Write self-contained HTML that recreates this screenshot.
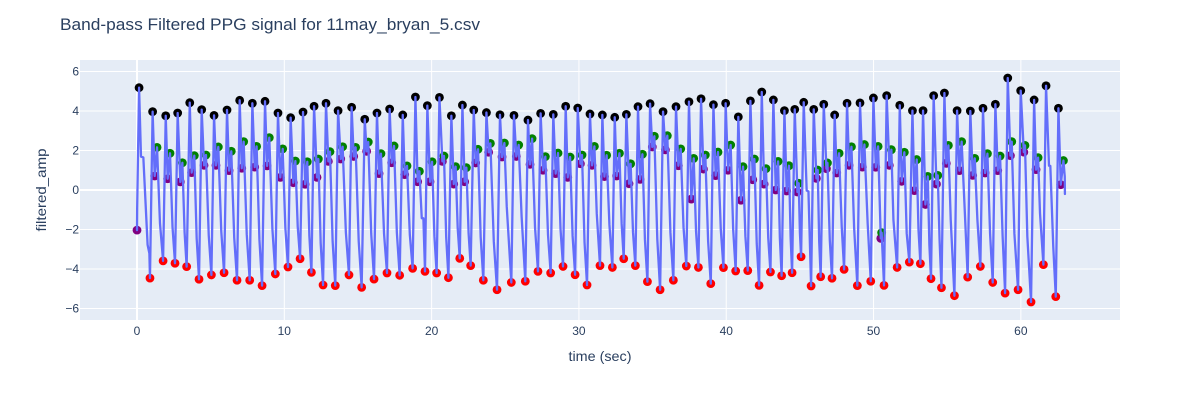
<!DOCTYPE html>
<html lang="en">
<head>
<meta charset="utf-8">
<title>Band-pass Filtered PPG signal</title>
<style>
html,body{margin:0;padding:0;background:#fff;width:1200px;height:400px;overflow:hidden}
svg{display:block}
text{font-family:"Liberation Sans",Arial,sans-serif;fill:#2a3f5f}
</style>
</head>
<body>
<svg id="chart" width="1200" height="400" viewBox="0 0 1200 400" xmlns="http://www.w3.org/2000/svg">
  <rect x="0" y="0" width="1200" height="400" fill="#ffffff"/>
  <rect x="80" y="60" width="1040" height="260" fill="#E5ECF6"/>
  <g id="grid"></g>
  <g id="ticks"></g>
  <g id="markers"></g>
  <path id="signal" fill="none" stroke="#636efa" stroke-width="2.3" stroke-linejoin="round" stroke-linecap="round"/>
  <text x="60" y="30" font-size="17" textLength="420" lengthAdjust="spacingAndGlyphs">Band-pass Filtered PPG signal for 11may_bryan_5.csv</text>
  <text x="600" y="361" font-size="14" text-anchor="middle" textLength="63" lengthAdjust="spacingAndGlyphs">time (sec)</text>
  <text x="0" y="0" font-size="14" text-anchor="middle" textLength="83" lengthAdjust="spacingAndGlyphs" transform="translate(46 190) rotate(-90)">filtered_amp</text>
</svg>
<script>
const xTicks = [0,10,20,30,40,50,60];
const yTicks = [-6,-4,-2,0,2,4,6];

const peakT = [0.14,1.06,1.95,2.76,3.58,4.39,5.23,6.11,6.97,7.83,8.69,9.57,10.43,11.27,12.02,12.83,13.65,14.57,15.46,16.29,17.15,18.04,18.90,19.71,20.53,21.34,22.09,22.86,23.72,24.64,25.59,26.54,27.40,28.26,29.10,29.92,30.75,31.59,32.43,33.22,34.01,34.83,35.71,36.59,37.47,38.29,39.13,39.96,40.82,41.64,42.41,43.20,43.95,44.65,45.26,45.94,46.62,47.36,48.20,49.08,49.99,50.89,51.78,52.64,53.36,54.08,54.81,55.67,56.57,57.43,58.27,59.11,59.99,60.90,61.71,62.55];
const peakV = [5.18,3.97,3.76,3.90,4.42,4.07,3.78,4.05,4.54,4.39,4.49,3.90,3.66,3.95,4.24,4.39,4.02,4.19,3.58,3.90,4.10,3.80,4.71,4.27,4.69,3.76,4.30,4.05,3.92,3.81,3.78,3.54,3.88,3.83,4.24,4.15,3.85,3.80,3.68,3.83,4.22,4.37,3.97,4.22,4.47,4.62,4.32,4.39,3.70,4.51,4.96,4.56,4.02,4.08,4.44,4.08,4.34,3.80,4.39,4.41,4.66,4.78,4.29,4.02,4.02,4.78,4.91,4.02,4.00,4.14,4.34,5.67,5.03,4.56,5.28,4.14];

const troughT = [0.88,1.77,2.58,3.37,4.21,5.05,5.91,6.79,7.65,8.49,9.39,10.25,11.07,11.84,12.63,13.46,14.39,15.25,16.09,16.97,17.83,18.71,19.55,20.34,21.14,21.91,22.65,23.51,24.44,25.41,26.36,27.22,28.08,28.92,29.74,30.55,31.43,32.27,33.04,33.83,34.65,35.51,36.41,37.29,38.11,38.95,39.81,40.64,41.46,42.23,43.00,43.76,44.47,45.08,45.76,46.41,47.18,48.00,48.90,49.81,50.71,51.60,52.43,53.18,53.90,54.61,55.49,56.39,57.25,58.09,58.93,59.81,60.69,61.53,62.37];
const troughV = [-4.46,-3.59,-3.71,-3.88,-4.52,-4.30,-4.19,-4.57,-4.57,-4.84,-4.25,-3.90,-3.48,-4.17,-4.81,-4.84,-4.30,-4.93,-4.51,-4.20,-4.32,-3.97,-4.12,-4.20,-4.44,-3.46,-3.83,-4.57,-5.05,-4.68,-4.62,-4.12,-4.20,-3.87,-4.29,-4.81,-3.83,-3.92,-3.48,-3.83,-4.64,-5.05,-4.57,-3.85,-3.92,-4.74,-3.93,-4.10,-4.08,-4.83,-4.15,-4.34,-4.19,-3.38,-4.86,-4.39,-4.47,-4.02,-4.84,-4.62,-4.83,-3.92,-3.65,-3.73,-4.49,-4.95,-5.35,-4.41,-3.87,-4.68,-5.22,-5.05,-5.67,-3.78,-5.40];

const diastolicT = [1.36,2.24,3.08,3.89,4.68,5.52,6.40,7.24,8.12,8.98,9.89,10.75,11.56,12.31,13.10,13.96,14.84,15.70,16.56,17.45,18.33,19.17,20.03,20.84,21.63,22.36,23.15,23.99,24.94,25.91,26.82,27.72,28.58,29.40,30.21,31.05,31.88,32.75,33.51,34.31,35.12,36.00,36.91,37.79,38.58,39.44,40.30,41.14,41.91,42.70,43.52,44.26,44.92,46.21,46.87,47.66,48.50,49.38,50.31,50.55,51.21,52.09,52.93,53.68,54.36,55.08,55.98,56.87,57.73,58.59,59.38,60.28,61.17,62.89];
const diastolicV = [2.16,1.86,1.38,1.74,1.77,2.18,1.96,2.45,2.21,2.65,2.08,1.47,1.43,1.57,1.94,2.19,2.16,2.43,1.84,2.23,1.22,0.95,1.43,1.72,1.18,1.13,2.06,2.36,2.38,2.28,2.60,1.69,1.87,1.67,1.77,2.21,1.76,1.86,1.33,1.81,2.72,2.75,2.08,1.60,1.77,1.92,2.28,1.18,1.57,1.08,1.45,1.23,0.34,1.01,1.37,1.86,2.19,2.30,2.21,-2.16,2.04,1.91,1.54,0.69,0.74,2.26,2.45,1.60,1.84,1.72,2.45,2.26,1.64,1.49];

const notchT = [0.00,1.20,2.08,2.94,3.71,4.55,5.36,6.25,7.11,7.99,8.83,9.73,10.61,11.41,12.22,12.99,13.83,14.71,15.59,16.43,17.29,18.17,19.05,19.89,20.73,21.50,22.24,22.99,23.87,24.78,25.75,26.68,27.56,28.42,29.24,30.10,30.89,31.73,32.56,33.40,34.15,34.98,35.87,36.75,37.63,38.45,39.28,40.12,41.00,41.80,42.57,43.36,44.10,44.83,46.12,46.80,47.50,48.34,49.24,50.15,50.49,51.07,51.91,52.77,53.52,54.27,54.94,55.83,56.73,57.57,58.43,59.29,60.20,61.03,62.71];
const notchV = [-2.03,0.71,0.57,0.41,0.88,1.25,1.25,0.98,1.10,1.16,1.22,0.64,0.37,0.29,0.64,1.45,1.57,1.70,1.96,0.83,1.38,0.78,0.42,0.42,1.45,0.30,0.42,1.37,1.91,1.67,1.70,1.30,1.00,0.83,0.64,1.33,1.25,0.68,0.71,0.32,0.54,2.18,2.03,1.23,-0.46,1.06,0.73,1.00,-0.52,0.52,0.30,0.00,-0.05,-0.10,0.59,1.08,0.86,1.25,1.16,1.15,-2.45,1.25,0.44,-0.03,-0.73,0.30,1.35,0.98,0.74,0.86,0.98,1.74,1.92,1.03,0.27];

/* Line-only samples between the marked features (knees and shoulders of the waveform). */
const kneeT = [0.01,0.27,0.43,0.72,0.84,1.56,2.41,3.23,4.05,4.87,5.72,6.60,7.45,8.31,9.19,10.07,10.91,11.70,12.47,13.28,14.18,15.05,15.90,16.77,17.64,18.52,19.33,19.44,20.19,20.99,21.77,22.51,23.33,24.22,25.10,26.11,27.02,27.90,28.75,29.57,30.38,31.21,32.07,32.90,33.67,34.48,35.32,36.21,37.10,37.95,38.77,39.63,40.47,41.30,42.07,42.85,43.64,44.37,45.00,45.46,45.58,46.31,47.03,47.84,48.68,49.60,51.35,52.25,53.05,53.79,54.48,55.24,56.21,57.05,57.91,58.76,59.56,60.44,61.30,61.91,62.00,62.20,62.98,62.99];
const kneeV = [-0.93,1.69,1.65,-2.78,-3.21,-1.69,-1.87,-2.14,-2.45,-2.30,-2.09,-2.42,-2.25,-2.51,-1.97,-1.92,-1.85,-2.32,-2.70,-2.60,-2.16,-2.59,-2.22,-2.21,-2.16,-2.26,-1.43,-1.43,-2.34,-2.41,-1.93,-2.19,-2.38,-2.60,-0.84,-1.35,-1.90,-2.26,-1.98,-2.32,-2.64,-1.20,-1.77,-1.72,-2.13,-2.51,-2.49,-2.15,-1.89,-2.10,-2.59,-2.00,-1.99,-2.34,-2.72,-2.42,-2.43,-2.40,-2.15,-0.03,-0.07,-2.61,-2.54,-1.86,-1.90,-1.69,-1.52,-2.20,-2.00,-2.78,-2.50,-1.52,-1.35,-1.52,-2.20,-2.30,-2.20,-2.36,-1.18,1.23,1.22,-2.87,0.68,-0.20];

const xDomain = [-3.87, 66.73];
const yDomain = [-6.582, 6.582];
const plotBox = {left:80, top:60, width:1040, height:260};

function xScale(t){ return plotBox.left + (t - xDomain[0]) / (xDomain[1] - xDomain[0]) * plotBox.width; }
function yScale(v){ return plotBox.top + plotBox.height - (v - yDomain[0]) / (yDomain[1] - yDomain[0]) * plotBox.height; }

const NS = 'http://www.w3.org/2000/svg';
const gridG = document.getElementById('grid');
const tickG = document.getElementById('ticks');
const markG = document.getElementById('markers');

function makeLine(x1,y1,x2,y2,w){
  const l = document.createElementNS(NS,'line');
  l.setAttribute('x1',x1);
  l.setAttribute('y1',y1);
  l.setAttribute('x2',x2);
  l.setAttribute('y2',y2);
  l.setAttribute('stroke','#ffffff');
  l.setAttribute('stroke-width',w);
  return l;
}
function makeLabel(x,y,anchor,str){
  const t = document.createElementNS(NS,'text');
  t.setAttribute('x',x);
  t.setAttribute('y',y);
  t.setAttribute('text-anchor',anchor);
  t.setAttribute('font-size','12');
  t.textContent = str;
  return t;
}

xTicks.forEach(function(tick){
  const px = xScale(tick);
  const g = makeLine(px,60,px,320,tick===0?2:1);
  
  
  gridG.appendChild(g);
  const lab = makeLabel(px,335,'middle',String(tick));
  
  
  tickG.appendChild(lab);
});
yTicks.forEach(function(tick){
  const py = yScale(tick);
  const g = makeLine(80,py,1120,py,tick===0?2:1);
  
  
  gridG.appendChild(g);
  const lab = makeLabel(79,py+4.2,'end',String(tick).replace('-','\u2212'));
  
  
  tickG.appendChild(lab);
});

function drawMarkers(ts,vs,color,name){
  ts.forEach(function(t,i){
    const c = document.createElementNS(NS,'circle');
    c.setAttribute('cx',xScale(t));
    c.setAttribute('cy',yScale(vs[i]));
    c.setAttribute('r','4.4');
    c.setAttribute('fill',color);
    
    
    markG.appendChild(c);
  });
}
drawMarkers(notchT,notchV,'#800080','notch-marker');
drawMarkers(diastolicT,diastolicV,'#008000','diastolic-marker');
drawMarkers(troughT,troughV,'#ff0000','trough-marker');
drawMarkers(peakT,peakV,'#000000','peak-marker');

const linePts = [];
[[peakT,peakV],[troughT,troughV],[diastolicT,diastolicV],[notchT,notchV],[kneeT,kneeV]].forEach(function(s){
  s[0].forEach(function(t,i){ linePts.push([t,s[1][i]]); });
});
linePts.sort(function(a,b){ return a[0]-b[0]; });
document.getElementById('signal').setAttribute('d', linePts.map(function(p,i){
  return (i?'L':'M') + xScale(p[0]).toFixed(2) + ' ' + yScale(p[1]).toFixed(2);
}).join(''));
</script>
</body>
</html>
